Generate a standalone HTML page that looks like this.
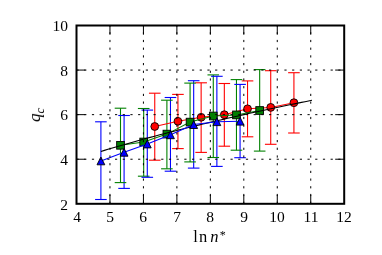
<!DOCTYPE html>
<html><head><meta charset="utf-8"><style>
html,body{margin:0;padding:0;background:#fff;}
body{width:382px;height:255px;position:relative;overflow:hidden;font-family:"Liberation Serif",serif;color:#000;}
.xt,.yt,.xl,.yl{will-change:transform;}
.xt{position:absolute;top:207.5px;width:40px;text-align:center;font-size:15.5px;line-height:18px;}
.yt{position:absolute;left:18px;width:50px;text-align:right;font-size:15.5px;line-height:18px;}
.xl{position:absolute;left:160.2px;width:100px;top:227.5px;text-align:center;font-size:16.5px;line-height:18px;white-space:nowrap;letter-spacing:1.1px;}
.yl{position:absolute;left:34.8px;top:114.8px;width:0;height:0;}
.yl span{position:absolute;display:block;white-space:nowrap;font-size:17px;line-height:18px;transform:translate(-50%,-50%) rotate(-90deg);font-style:italic;}
sub,sup{line-height:0;}
</style></head><body>
<svg width="382" height="255" viewBox="0 0 382 255" style="position:absolute;left:0;top:0">
<g stroke="#ff0000" stroke-width="1.1" fill="none">
<line x1="154.75" y1="93.2" x2="154.75" y2="160.2"/>
<line x1="177.94" y1="94.4" x2="177.94" y2="148.6"/>
<line x1="201.14" y1="82.8" x2="201.14" y2="152.4"/>
<line x1="224.33" y1="83.5" x2="224.33" y2="146.2"/>
<line x1="247.53" y1="80.9" x2="247.53" y2="136.8"/>
<line x1="270.72" y1="70.7" x2="270.72" y2="144.3"/>
<line x1="293.92" y1="72.7" x2="293.92" y2="133.0"/>
</g>
<g stroke="#008000" stroke-width="1.1" fill="none">
<line x1="120.50" y1="108.2" x2="120.50" y2="182.6"/>
<line x1="143.69" y1="108.5" x2="143.69" y2="176.2"/>
<line x1="166.89" y1="100.2" x2="166.89" y2="168.8"/>
<line x1="190.08" y1="83.1" x2="190.08" y2="161.9"/>
<line x1="213.28" y1="74.9" x2="213.28" y2="157.5"/>
<line x1="236.47" y1="79.6" x2="236.47" y2="150.2"/>
<line x1="259.67" y1="69.6" x2="259.67" y2="151.1"/>
</g>
<g stroke="#0000ff" stroke-width="1.1" fill="none">
<line x1="100.90" y1="121.8" x2="100.90" y2="199.5"/>
<line x1="124.09" y1="115.5" x2="124.09" y2="188.4"/>
<line x1="147.29" y1="110.1" x2="147.29" y2="177.3"/>
<line x1="170.48" y1="97.5" x2="170.48" y2="171.2"/>
<line x1="193.68" y1="80.7" x2="193.68" y2="168.1"/>
<line x1="216.87" y1="76.3" x2="216.87" y2="166.4"/>
<line x1="240.07" y1="84.4" x2="240.07" y2="157.7"/>
</g>
<polyline fill="none" stroke="#ff0000" stroke-width="1.05" points="154.75,126.5 177.94,121.3 201.14,117.3 224.33,114.7 247.53,108.8 270.72,107.4 293.92,102.7"/>
<circle cx="154.75" cy="126.50" r="3.9" fill="#ff0000" stroke="#000" stroke-width="0.9"/>
<circle cx="177.94" cy="121.30" r="3.9" fill="#ff0000" stroke="#000" stroke-width="0.9"/>
<circle cx="201.14" cy="117.30" r="3.9" fill="#ff0000" stroke="#000" stroke-width="0.9"/>
<circle cx="224.33" cy="114.70" r="3.9" fill="#ff0000" stroke="#000" stroke-width="0.9"/>
<circle cx="247.53" cy="108.80" r="3.9" fill="#ff0000" stroke="#000" stroke-width="0.9"/>
<circle cx="270.72" cy="107.40" r="3.9" fill="#ff0000" stroke="#000" stroke-width="0.9"/>
<circle cx="293.92" cy="102.70" r="3.9" fill="#ff0000" stroke="#000" stroke-width="0.9"/>
<g stroke="#ff0000" stroke-width="1.1" fill="none">
<line x1="148.95" y1="93.2" x2="160.55" y2="93.2"/>
<line x1="148.95" y1="160.2" x2="160.55" y2="160.2"/>
<line x1="172.14" y1="94.4" x2="183.74" y2="94.4"/>
<line x1="172.14" y1="148.6" x2="183.74" y2="148.6"/>
<line x1="195.34" y1="82.8" x2="206.94" y2="82.8"/>
<line x1="195.34" y1="152.4" x2="206.94" y2="152.4"/>
<line x1="218.53" y1="83.5" x2="230.13" y2="83.5"/>
<line x1="218.53" y1="146.2" x2="230.13" y2="146.2"/>
<line x1="241.73" y1="80.9" x2="253.33" y2="80.9"/>
<line x1="241.73" y1="136.8" x2="253.33" y2="136.8"/>
<line x1="264.92" y1="70.7" x2="276.52" y2="70.7"/>
<line x1="264.92" y1="144.3" x2="276.52" y2="144.3"/>
<line x1="288.12" y1="72.7" x2="299.72" y2="72.7"/>
<line x1="288.12" y1="133.0" x2="299.72" y2="133.0"/>
</g>
<polyline fill="none" stroke="#008000" stroke-width="1.05" points="120.50,145.3 143.69,142.0 166.89,134.1 190.08,122.1 213.28,116.0 236.47,114.9 259.67,110.5"/>
<rect x="116.65" y="141.45" width="7.7" height="7.7" fill="#008000" stroke="#000" stroke-width="0.9"/>
<rect x="139.84" y="138.15" width="7.7" height="7.7" fill="#008000" stroke="#000" stroke-width="0.9"/>
<rect x="163.04" y="130.25" width="7.7" height="7.7" fill="#008000" stroke="#000" stroke-width="0.9"/>
<rect x="186.23" y="118.25" width="7.7" height="7.7" fill="#008000" stroke="#000" stroke-width="0.9"/>
<rect x="209.43" y="112.15" width="7.7" height="7.7" fill="#008000" stroke="#000" stroke-width="0.9"/>
<rect x="232.62" y="111.05" width="7.7" height="7.7" fill="#008000" stroke="#000" stroke-width="0.9"/>
<rect x="255.82" y="106.65" width="7.7" height="7.7" fill="#008000" stroke="#000" stroke-width="0.9"/>
<g stroke="#008000" stroke-width="1.1" fill="none">
<line x1="114.70" y1="108.2" x2="126.30" y2="108.2"/>
<line x1="114.70" y1="182.6" x2="126.30" y2="182.6"/>
<line x1="137.89" y1="108.5" x2="149.49" y2="108.5"/>
<line x1="137.89" y1="176.2" x2="149.49" y2="176.2"/>
<line x1="161.09" y1="100.2" x2="172.69" y2="100.2"/>
<line x1="161.09" y1="168.8" x2="172.69" y2="168.8"/>
<line x1="184.28" y1="83.1" x2="195.88" y2="83.1"/>
<line x1="184.28" y1="161.9" x2="195.88" y2="161.9"/>
<line x1="207.48" y1="74.9" x2="219.08" y2="74.9"/>
<line x1="207.48" y1="157.5" x2="219.08" y2="157.5"/>
<line x1="230.67" y1="79.6" x2="242.27" y2="79.6"/>
<line x1="230.67" y1="150.2" x2="242.27" y2="150.2"/>
<line x1="253.87" y1="69.6" x2="265.47" y2="69.6"/>
<line x1="253.87" y1="151.1" x2="265.47" y2="151.1"/>
</g>
<polyline fill="none" stroke="#000" stroke-width="1.1" points="100.90,151.44 104.42,150.37 107.94,149.31 111.46,148.26 114.97,147.22 118.49,146.19 122.01,145.18 125.53,144.17 129.05,143.17 132.57,142.18 136.08,141.20 139.60,140.23 143.12,139.27 146.64,138.32 150.16,137.37 153.68,136.44 157.19,135.51 160.71,134.59 164.23,133.67 167.75,132.76 171.27,131.86 174.79,130.97 178.30,130.08 181.82,129.20 185.34,128.33 188.86,127.46 192.38,126.60 195.90,125.75 199.41,124.90 202.93,124.06 206.45,123.22 209.97,122.39 213.49,121.56 217.01,120.74 220.52,119.92 224.04,119.11 227.56,118.31 231.08,117.51 234.60,116.71 238.12,115.92 241.63,115.13 245.15,114.35 248.67,113.58 252.19,112.80 255.71,112.03 259.23,111.27 262.74,110.51 266.26,109.76 269.78,109.00 273.30,108.26 276.82,107.51 280.34,106.77 283.85,106.04 287.37,105.31 290.89,104.58 294.41,103.85 297.93,103.13 301.45,102.41 304.96,101.70 308.48,100.99 312.00,100.28"/>
<polyline fill="none" stroke="#0000ff" stroke-width="1.05" points="100.90,160.9 124.09,152.3 147.29,144.0 170.48,134.8 193.68,124.6 216.87,121.7 240.07,121.2"/>
<polygon points="100.90,157.00 97.00,164.80 104.80,164.80" fill="#0000ff" stroke="#000" stroke-width="0.9"/>
<polygon points="124.09,148.40 120.19,156.20 127.99,156.20" fill="#0000ff" stroke="#000" stroke-width="0.9"/>
<polygon points="147.29,140.10 143.39,147.90 151.19,147.90" fill="#0000ff" stroke="#000" stroke-width="0.9"/>
<polygon points="170.48,130.90 166.58,138.70 174.38,138.70" fill="#0000ff" stroke="#000" stroke-width="0.9"/>
<polygon points="193.68,120.70 189.78,128.50 197.58,128.50" fill="#0000ff" stroke="#000" stroke-width="0.9"/>
<polygon points="216.87,117.80 212.97,125.60 220.77,125.60" fill="#0000ff" stroke="#000" stroke-width="0.9"/>
<polygon points="240.07,117.30 236.17,125.10 243.97,125.10" fill="#0000ff" stroke="#000" stroke-width="0.9"/>
<g stroke="#0000ff" stroke-width="1.1" fill="none">
<line x1="95.10" y1="121.8" x2="106.70" y2="121.8"/>
<line x1="95.10" y1="199.5" x2="106.70" y2="199.5"/>
<line x1="118.29" y1="115.5" x2="129.89" y2="115.5"/>
<line x1="118.29" y1="188.4" x2="129.89" y2="188.4"/>
<line x1="141.49" y1="110.1" x2="153.09" y2="110.1"/>
<line x1="141.49" y1="177.3" x2="153.09" y2="177.3"/>
<line x1="164.68" y1="97.5" x2="176.28" y2="97.5"/>
<line x1="164.68" y1="171.2" x2="176.28" y2="171.2"/>
<line x1="187.88" y1="80.7" x2="199.48" y2="80.7"/>
<line x1="187.88" y1="168.1" x2="199.48" y2="168.1"/>
<line x1="211.07" y1="76.3" x2="222.67" y2="76.3"/>
<line x1="211.07" y1="166.4" x2="222.67" y2="166.4"/>
<line x1="234.27" y1="84.4" x2="245.87" y2="84.4"/>
<line x1="234.27" y1="157.7" x2="245.87" y2="157.7"/>
</g>
<g stroke="#000" stroke-width="1" stroke-dasharray="2.2 5.5" fill="none">
<line x1="109.96" y1="203.8" x2="109.96" y2="25.5" stroke-dashoffset="0"/>
<line x1="143.43" y1="203.8" x2="143.43" y2="25.5" stroke-dashoffset="0"/>
<line x1="176.89" y1="203.8" x2="176.89" y2="25.5" stroke-dashoffset="0"/>
<line x1="210.35" y1="203.8" x2="210.35" y2="25.5" stroke-dashoffset="0"/>
<line x1="243.81" y1="203.8" x2="243.81" y2="25.5" stroke-dashoffset="0"/>
<line x1="277.27" y1="203.8" x2="277.27" y2="25.5" stroke-dashoffset="0"/>
<line x1="310.74" y1="203.8" x2="310.74" y2="25.5" stroke-dashoffset="0"/>
<line x1="76.5" y1="159.23" x2="344.2" y2="159.23"/>
<line x1="76.5" y1="114.65" x2="344.2" y2="114.65"/>
<line x1="76.5" y1="70.07" x2="344.2" y2="70.07"/>
</g>
<g stroke="#000" stroke-width="1">
<line x1="109.96" y1="203.8" x2="109.96" y2="194.8"/>
<line x1="109.96" y1="25.5" x2="109.96" y2="34.5"/>
<line x1="143.43" y1="203.8" x2="143.43" y2="194.8"/>
<line x1="143.43" y1="25.5" x2="143.43" y2="34.5"/>
<line x1="176.89" y1="203.8" x2="176.89" y2="194.8"/>
<line x1="176.89" y1="25.5" x2="176.89" y2="34.5"/>
<line x1="210.35" y1="203.8" x2="210.35" y2="194.8"/>
<line x1="210.35" y1="25.5" x2="210.35" y2="34.5"/>
<line x1="243.81" y1="203.8" x2="243.81" y2="194.8"/>
<line x1="243.81" y1="25.5" x2="243.81" y2="34.5"/>
<line x1="277.27" y1="203.8" x2="277.27" y2="194.8"/>
<line x1="277.27" y1="25.5" x2="277.27" y2="34.5"/>
<line x1="310.74" y1="203.8" x2="310.74" y2="194.8"/>
<line x1="310.74" y1="25.5" x2="310.74" y2="34.5"/>
<line x1="76.5" y1="159.23" x2="85.5" y2="159.23"/>
<line x1="344.2" y1="159.23" x2="335.2" y2="159.23"/>
<line x1="76.5" y1="114.65" x2="85.5" y2="114.65"/>
<line x1="344.2" y1="114.65" x2="335.2" y2="114.65"/>
<line x1="76.5" y1="70.07" x2="85.5" y2="70.07"/>
<line x1="344.2" y1="70.07" x2="335.2" y2="70.07"/>
</g>
<rect x="76.5" y="25.5" width="267.70" height="178.30" fill="none" stroke="#000" stroke-width="2"/>
</svg>
<div class="xt" style="left:56.50px">4</div><div class="xt" style="left:89.96px">5</div><div class="xt" style="left:123.43px">6</div><div class="xt" style="left:156.89px">7</div><div class="xt" style="left:190.35px">8</div><div class="xt" style="left:223.81px">9</div><div class="xt" style="left:257.27px">10</div><div class="xt" style="left:290.74px">11</div><div class="xt" style="left:324.20px">12</div><div class="yt" style="top:195.50px">2</div><div class="yt" style="top:150.93px">4</div><div class="yt" style="top:106.35px">6</div><div class="yt" style="top:61.77px">8</div><div class="yt" style="top:17.20px">10</div>
<div class="xl">ln<i style="margin-left:2px">n</i><sup style="font-size:12px;vertical-align:3px">*</sup></div>
<div class="yl"><span>q<sub style="font-size:12px;vertical-align:-3.5px">c</sub></span></div>
</body></html>
